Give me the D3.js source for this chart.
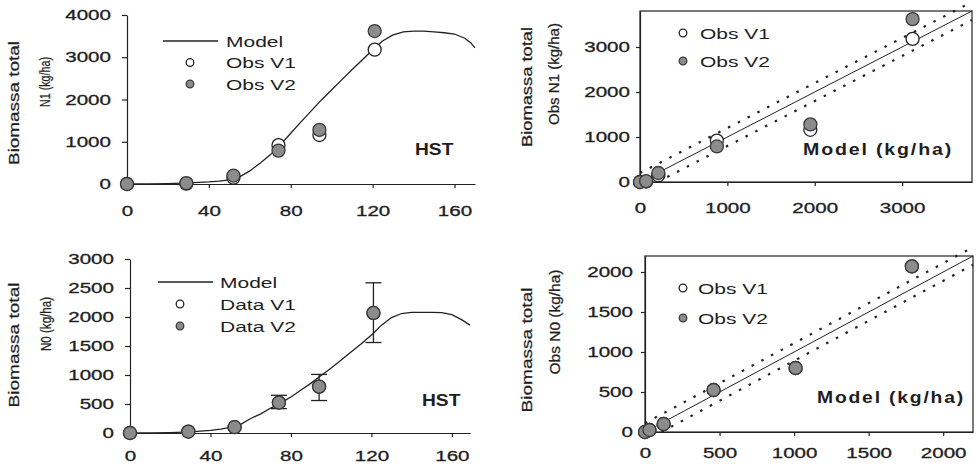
<!DOCTYPE html>
<html>
<head>
<meta charset="utf-8">
<script src="https://cdn.jsdelivr.net/npm/d3@7"></script>
<style>
body{margin:0;background:#fff;}
svg text{font-family:"Liberation Sans",Arial,sans-serif;fill:#1e1e1e;}
</style>
</head>
<body>
<div id="chart"></div>
<script>
// sampling days of the observations
let obsDays = [0, 29, 52, 74, 94, 121];

// N1 treatment
let n1ModelDays = [0, 10, 20, 30, 40, 45, 50, 55, 60, 65, 70, 74, 80, 85, 90, 95, 100, 105, 110, 115, 121, 125, 130, 135, 140, 145, 150, 155, 160, 165, 168, 170];
let n1Model = [0, 5, 10, 25, 50, 70, 100, 170, 310, 490, 690, 880, 1200, 1470, 1730, 1990, 2230, 2470, 2710, 2940, 3220, 3390, 3530, 3600, 3620, 3620, 3600, 3580, 3550, 3450, 3340, 3220];
let n1ObsV1 = [0, 10, 150, 920, 1160, 3180];
let n1ObsV2 = [0, 20, 200, 790, 1280, 3620];
let n1ModelAtObs = [0, 70, 210, 880, 1950, 3120];
let n1Band = 200;

// N0 treatment
let n0ModelDays = [0, 10, 20, 30, 40, 45, 50, 55, 60, 65, 70, 76, 80, 85, 90, 95, 100, 105, 110, 115, 121, 125, 130, 135, 140, 145, 150, 155, 160, 165, 169];
let n0Model = [0, 3, 8, 18, 45, 65, 95, 150, 250, 330, 430, 540, 620, 740, 860, 990, 1120, 1260, 1400, 1540, 1720, 1860, 1990, 2060, 2080, 2080, 2080, 2075, 2040, 1950, 1860];
let n0DataV1 = [0, 25, 100, 525, 800, 2070];
let n0DataV2 = [0, 25, 100, 525, 800, 2070];
let n0ErrLow = [null, null, null, 420, 560, 1560];
let n0ErrHigh = [null, null, null, 650, 1010, 2590];
let n0ModelAtObs = [0, 30, 125, 460, 1010, 1790];
let n0Band = 110;

// tick labels
let dayTicks = [0, 40, 80, 120, 160];
let n1Ticks = [0, 1000, 2000, 3000, 4000];
let n1ScatterTicks = [0, 1000, 2000, 3000];
let n0Ticks = [0, 500, 1000, 1500, 2000, 2500, 3000];
let n0ScatterTicks = [0, 500, 1000, 1500, 2000];

let INK = "#222";
let FILL_V2 = "#8c8c8c";

let svg = d3.select("#chart").append("svg")
    .attr("width", 979)
    .attr("height", 470)
    .style("background", "#fff");

// horizontally widen the axis labels like the scanned figure
function stretch(sel, sx){
    sel.each(function(){
        let t = d3.select(this);
        let x = +t.attr("x") || 0;
        t.attr("x", x / sx).attr("transform", "scale(" + sx + ",1)");
    });
}

function styleAxis(axis){
    axis.attr("font-family", null).attr("font-size", 14.5);
    axis.selectAll("path, line").attr("stroke", INK).attr("stroke-width", 1.2);
    axis.selectAll("text").attr("fill", INK).attr("stroke", INK).attr("stroke-width", 0.3);
    stretch(axis.selectAll("text"), 1.42);
}

// rotated label, scaled along its length (natural width measured first)
function yLabel(g, x, yc, text, len){
    let t = g.append("text")
        .attr("text-anchor", "middle")
        .attr("dy", "0.35em")
        .attr("font-size", 14.5)
        .attr("stroke", INK).attr("stroke-width", 0.25)
        .text(text);
    let w = t.node().getComputedTextLength();
    t.attr("transform", "translate(" + x + "," + yc + ") rotate(-90) scale(" + (len / w) + ",1)");
}

function marker(g, cx, cy, r, filled){
    g.append("circle")
        .attr("cx", cx).attr("cy", cy).attr("r", r)
        .attr("fill", filled ? FILL_V2 : "#fff")
        .attr("stroke", filled ? "#3a3a3a" : INK)
        .attr("stroke-width", 1.3);
}

function legendText(g, x, y, label){
    g.append("text")
        .attr("transform", "translate(" + x + "," + (y + 5.5) + ") scale(1.4,1)")
        .attr("font-size", 15)
        .text(label);
}

function drawTimePanel(p){
    let g = svg.append("g");
    let x = d3.scaleLinear().domain(p.xDomain).range(p.xRange);
    let y = d3.scaleLinear().domain(p.yDomain).range(p.yRange);

    let ax = g.append("g")
        .attr("transform", "translate(0," + p.yRange[0] + ")")
        .call(d3.axisBottom(x).tickValues(dayTicks).tickFormat(d3.format("d"))
            .tickSize(4).tickSizeOuter(0).tickPadding(p.xPad));
    let ay = g.append("g")
        .attr("transform", "translate(" + p.xRange[0] + ",0)")
        .call(d3.axisLeft(y).tickValues(p.yTicks).tickFormat(d3.format("d"))
            .tickSize(5).tickSizeOuter(0).tickPadding(p.yPad));
    styleAxis(ax);
    styleAxis(ay);

    let line = d3.line()
        .x(function(d){ return x(d[0]); })
        .y(function(d){ return y(d[1]); });

    g.append("path")
        .datum(d3.zip(p.modelDays, p.model))
        .attr("d", line)
        .attr("fill", "none")
        .attr("stroke", INK)
        .attr("stroke-width", 1.3);

    // error bars
    if(p.errLow){
        obsDays.forEach(function(day, i){
            if(p.errLow[i] === null) return;
            let cx = x(day);
            g.append("line").attr("x1", cx).attr("x2", cx)
                .attr("y1", y(p.errLow[i])).attr("y2", y(p.errHigh[i]))
                .attr("stroke", INK).attr("stroke-width", 1.3);
            [p.errLow[i], p.errHigh[i]].forEach(function(v){
                g.append("line").attr("x1", cx - 8).attr("x2", cx + 8)
                    .attr("y1", y(v)).attr("y2", y(v))
                    .attr("stroke", INK).attr("stroke-width", 1.3);
            });
        });
    }

    obsDays.forEach(function(day, i){ marker(g, x(day), y(p.obsV1[i]), 6.5, false); });
    obsDays.forEach(function(day, i){ marker(g, x(day), y(p.obsV2[i]), 6.5, true); });

    // legend
    let L = p.legend;
    g.append("line").attr("x1", L.x0).attr("x2", L.x1).attr("y1", L.y).attr("y2", L.y)
        .attr("stroke", INK).attr("stroke-width", 1.3);
    legendText(g, L.tx, L.y, "Model");
    marker(g, L.cx, L.y + L.gap, 3.8, false);
    legendText(g, L.tx, L.y + L.gap, L.labels[0]);
    marker(g, L.cx, L.y + 2 * L.gap, 3.8, true);
    legendText(g, L.tx, L.y + 2 * L.gap, L.labels[1]);

    g.append("text")
        .attr("transform", "translate(" + p.hst[0] + "," + p.hst[1] + ") scale(1.2,1)")
        .attr("font-size", 16)
        .attr("font-weight", "bold")
        .text("HST");

    yLabel(g, p.yl1[0], p.yl1[1], "Biomassa total", p.yl1[2]);
    yLabel(g, p.yl2[0], p.yl2[1], p.yLabel, p.yl2[2]);
}

function drawScatterPanel(p){
    let g = svg.append("g");
    let x = d3.scaleLinear().domain([0, p.max]).range(p.xRange);
    let y = d3.scaleLinear().domain([0, p.max]).range(p.yRange);

    let ax = g.append("g")
        .attr("transform", "translate(0," + p.yRange[0] + ")")
        .call(d3.axisBottom(x).tickValues(p.ticks).tickFormat(d3.format("d"))
            .tickSize(4).tickSizeOuter(0).tickPadding(p.xPad));
    let ay = g.append("g")
        .attr("transform", "translate(" + p.xRange[0] + ",0)")
        .call(d3.axisLeft(y).tickValues(p.ticks).tickFormat(d3.format("d"))
            .tickSize(4).tickSizeOuter(0).tickPadding(p.yPad));
    styleAxis(ax);
    styleAxis(ay);

    g.append("rect")
        .attr("x", p.xRange[0]).attr("y", p.yRange[1])
        .attr("width", p.xRange[1] - p.xRange[0])
        .attr("height", p.yRange[0] - p.yRange[1])
        .attr("fill", "none").attr("stroke", INK).attr("stroke-width", 1.2);

    // 1:1 line and the band around it
    g.append("line")
        .attr("x1", x(0)).attr("y1", y(0)).attr("x2", x(p.max)).attr("y2", y(p.max))
        .attr("stroke", INK).attr("stroke-width", 1);
    g.append("line")
        .attr("x1", x(0)).attr("y1", y(p.band)).attr("x2", x(p.max)).attr("y2", y(p.max + p.band))
        .attr("stroke", INK).attr("stroke-width", 2.2).attr("stroke-dasharray", "2.5,8.5");
    g.append("line")
        .attr("x1", x(p.band)).attr("y1", y(0)).attr("x2", x(p.max)).attr("y2", y(p.max - p.band))
        .attr("stroke", INK).attr("stroke-width", 2.2).attr("stroke-dasharray", "2.5,8.5");

    p.modelAtObs.forEach(function(m, i){ marker(g, x(m), y(p.obsV1[i]), 6.5, false); });
    p.modelAtObs.forEach(function(m, i){ marker(g, x(m), y(p.obsV2[i]), 6.5, true); });

    let L = p.legend;
    marker(g, L.cx, L.y, 3.8, false);
    legendText(g, L.tx, L.y, "Obs V1");
    marker(g, L.cx, L.y + L.gap, 3.8, true);
    legendText(g, L.tx, L.y + L.gap, "Obs V2");

    g.append("text")
        .attr("x", p.xl[0]).attr("y", p.xl[1])
        .attr("font-size", 16)
        .attr("font-weight", "bold")
        .attr("textLength", p.xl[2])
        .attr("lengthAdjust", "spacingAndGlyphs")
        .attr("letter-spacing", 1.5)
        .text("Model (kg/ha)");

    yLabel(g, p.yl1[0], p.yl1[1], "Biomassa total", p.yl1[2]);
    yLabel(g, p.yl2[0], p.yl2[1], p.yLabel, p.yl2[2]);
}

drawTimePanel({
    xDomain: [0, 170], xRange: [127, 475],
    yDomain: [0, 4000], yRange: [184, 15],
    yTicks: n1Ticks, xPad: 18, yPad: 11,
    modelDays: n1ModelDays, model: n1Model,
    obsV1: n1ObsV1, obsV2: n1ObsV2,
    legend: {x0: 163, x1: 218, y: 41, tx: 226, cx: 190, gap: 21.5, labels: ["Obs V1", "Obs V2"]},
    hst: [415, 155],
    yLabel: "N1 (kg/ha)",
    yl1: [14, 103, 124], yl2: [45, 82, 50]
});

drawScatterPanel({
    max: 3800, xRange: [640, 972], yRange: [182, 11],
    ticks: n1ScatterTicks, xPad: 17, yPad: 6,
    band: n1Band,
    modelAtObs: n1ModelAtObs, obsV1: n1ObsV1, obsV2: n1ObsV2,
    legend: {cx: 683, tx: 700, y: 33, gap: 28},
    xl: [803, 155, 150],
    yLabel: "Obs N1 (kg/ha)",
    yl1: [527, 87, 120], yl2: [554, 74, 102]
});

drawTimePanel({
    xDomain: [0, 169], xRange: [130, 470],
    yDomain: [0, 3000], yRange: [433, 259],
    yTicks: n0Ticks, xPad: 14, yPad: 11,
    modelDays: n0ModelDays, model: n0Model,
    obsV1: n0DataV1, obsV2: n0DataV2,
    errLow: n0ErrLow, errHigh: n0ErrHigh,
    legend: {x0: 158, x1: 213, y: 282, tx: 220, cx: 180, gap: 22, labels: ["Data V1", "Data V2"]},
    hst: [422, 406],
    yLabel: "N0 (kg/ha)",
    yl1: [14, 345, 125], yl2: [46, 324, 54]
});

drawScatterPanel({
    max: 2200, xRange: [645, 973], yRange: [432, 256],
    ticks: n0ScatterTicks, xPad: 12, yPad: 8,
    band: n0Band,
    modelAtObs: n0ModelAtObs, obsV1: n0DataV1, obsV2: n0DataV2,
    legend: {cx: 683, tx: 698, y: 288, gap: 30},
    xl: [817, 403, 148],
    yLabel: "Obs N0 (kg/ha)",
    yl1: [527, 350, 125], yl2: [555, 322, 105]
});
</script>
</body>
</html>
